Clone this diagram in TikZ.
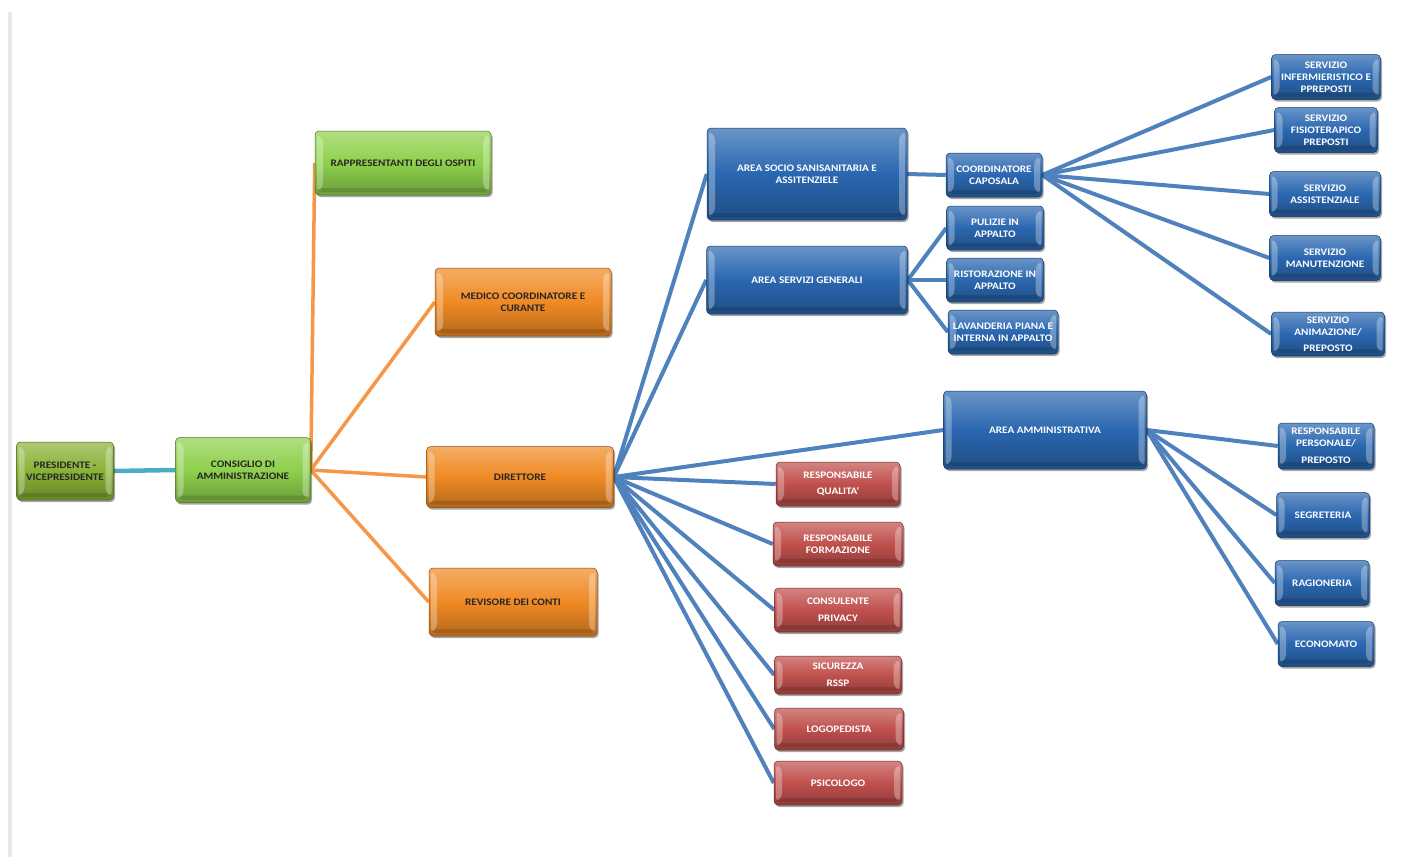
\documentclass[tikz,border=0pt]{standalone}
\usepackage{fontspec}
\newfontfamily\boxfont{Carlito}[FakeStretch=1.12]
\usetikzlibrary{shadows}
\pgfdeclarelayer{bg}
\pgfsetlayers{bg,main}
\definecolor{cgreen}{HTML}{8ED04C}
\definecolor{cpres}{HTML}{88B236}
\definecolor{corange}{HTML}{F08A24}
\definecolor{cblue}{HTML}{2A67B0}
\definecolor{cred}{HTML}{C0504D}
\definecolor{lblue}{HTML}{4F81BD}
\definecolor{lorange}{HTML}{F79646}
\definecolor{lcyan}{HTML}{4BACC6}
\tikzset{
  bevel/.style={rounded corners=4pt, draw=#1!55!black, line width=0.5pt,
    top color=#1!70!white, bottom color=#1!75!black, middle color=#1,
    drop shadow={shadow xshift=1.5pt, shadow yshift=-2pt, opacity=0.35, fill=black},
    align=center, inner sep=1pt,
    font=\boxfont\bfseries\fontsize{10}{12}\selectfont,
    path picture={
      \fill[white,opacity=0.3]
        ([xshift=2pt,yshift=-3pt]path picture bounding box.north west) --
        ([xshift=8pt,yshift=-8pt]path picture bounding box.north west) --
        ([xshift=8pt,yshift=8pt]path picture bounding box.south west) --
        ([xshift=2pt,yshift=3pt]path picture bounding box.south west) -- cycle;
      \fill[white,opacity=0.3]
        ([xshift=-2pt,yshift=-3pt]path picture bounding box.north east) --
        ([xshift=-8pt,yshift=-8pt]path picture bounding box.north east) --
        ([xshift=-8pt,yshift=8pt]path picture bounding box.south east) --
        ([xshift=-2pt,yshift=3pt]path picture bounding box.south east) -- cycle;
      \fill[black,opacity=0.12]
        ([xshift=3pt,yshift=3pt]path picture bounding box.south west) rectangle
        ([xshift=-3pt,yshift=7pt]path picture bounding box.south east);
    }},
  gbox/.style={bevel=cgreen, text=black!85},
  pbox/.style={bevel=cpres, text=black!85},
  obox/.style={bevel=corange, text=black!85},
  bbox/.style={bevel=cblue, text=white},
  rbox/.style={bevel=cred, text=white},
  bline/.style={draw=lblue, line width=4pt},
  oline/.style={draw=lorange, line width=3.5pt},
  cline/.style={draw=lcyan, line width=4.5pt},
}
\begin{document}
\begin{tikzpicture}[x=1pt,y=-1pt]
\useasboundingbox (0,0) rectangle (1401,857);

% left
\node[pbox, minimum width=97pt, minimum height=58pt] (pres) at (65,471) {PRESIDENTE -\\VICEPRESIDENTE};
\node[gbox, minimum width=135pt, minimum height=65pt] (cons) at (243,470) {CONSIGLIO DI\\AMMINISTRAZIONE};
\node[gbox, minimum width=176pt, minimum height=64pt] (rap) at (403,163) {RAPPRESENTANTI DEGLI OSPITI};
\node[obox, minimum width=176pt, minimum height=68pt] (med) at (523,302) {MEDICO COORDINATORE E\\CURANTE};
\node[obox, minimum width=187pt, minimum height=61pt] (dir) at (520,477) {DIRETTORE};
\node[obox, minimum width=168pt, minimum height=68pt] (rev) at (513,602) {REVISORE DEI CONTI};

% blue areas
\node[bbox, minimum width=200pt, minimum height=92pt] (soc) at (807,174) {AREA SOCIO SANISANITARIA E\\ASSITENZIELE};
\node[bbox, minimum width=201pt, minimum height=68pt] (srv) at (807,280) {AREA SERVIZI GENERALI};
\node[bbox, minimum width=203pt, minimum height=78pt] (amm) at (1045,430) {AREA AMMINISTRATIVA};

\node[bbox, minimum width=96pt, minimum height=44pt] (coo) at (994,175) {COORDINATORE\\CAPOSALA};
\node[bbox, minimum width=97pt, minimum height=44pt] (pul) at (995,228) {PULIZIE IN\\APPALTO};
\node[bbox, minimum width=97pt, minimum height=44pt] (ris) at (995,280) {RISTORAZIONE IN\\APPALTO};
\node[bbox, minimum width=110pt, minimum height=44pt] (lav) at (1003,332) {LAVANDERIA PIANA E\\INTERNA IN APPALTO};

\node[bbox, minimum width=109pt, minimum height=45pt] (s1) at (1326,77) {SERVIZIO\\INFERMIERISTICO E\\PPREPOSTI};
\node[bbox, minimum width=103pt, minimum height=45pt] (s2) at (1326,130) {SERVIZIO\\FISIOTERAPICO\\PREPOSTI};
\node[bbox, minimum width=111pt, minimum height=45pt] (s3) at (1325,194) {SERVIZIO\\ASSISTENZIALE};
\node[bbox, minimum width=111pt, minimum height=45pt] (s4) at (1325,258) {SERVIZIO\\MANUTENZIONE};
\node[bbox, minimum width=113pt, minimum height=44pt] (s5) at (1328,334) {SERVIZIO\\ANIMAZIONE/\\[4pt]PREPOSTO};

\node[bbox, minimum width=96pt, minimum height=46pt] (a1) at (1326,446) {RESPONSABILE\\PERSONALE/\\[5pt]PREPOSTO};
\node[bbox, minimum width=93pt, minimum height=45pt] (a2) at (1323,515) {SEGRETERIA};
\node[bbox, minimum width=94pt, minimum height=45pt] (a3) at (1322,583) {RAGIONERIA};
\node[bbox, minimum width=96pt, minimum height=45pt] (a4) at (1326,644) {ECONOMATO};

% red
\node[rbox, minimum width=124pt, minimum height=44pt] (q1) at (838,484) {RESPONSABILE\\[4pt]QUALITA'};
\node[rbox, minimum width=130pt, minimum height=44pt] (q2) at (838,544) {RESPONSABILE\\FORMAZIONE};
\node[rbox, minimum width=127pt, minimum height=44pt] (q3) at (838,610) {CONSULENTE\\[5pt]PRIVACY};
\node[rbox, minimum width=127pt, minimum height=38pt] (q4) at (838,675) {SICUREZZA\\[5pt]RSSP};
\node[rbox, minimum width=129pt, minimum height=42pt] (q5) at (839,729) {LOGOPEDISTA};
\node[rbox, minimum width=128pt, minimum height=44pt] (q6) at (838,783) {PSICOLOGO};

\begin{pgfonlayer}{bg}
\fill[white] (0,0) rectangle (1401,857);
\fill[black!9] (8,12) rectangle (12,857);
\draw[cline] (pres.east) -- (cons.west);
\foreach \t in {rap,med,dir,rev} \draw[oline] (cons.east) -- (\t.west);
\foreach \t in {soc,srv,amm,q1,q2,q3,q4,q5,q6} \draw[bline] (dir.east) -- (\t.west);
\draw[bline] (soc.east) -- (coo.west);
\foreach \t in {pul,ris,lav} \draw[bline] (srv.east) -- (\t.west);
\foreach \t in {s1,s2,s3,s4,s5} \draw[bline] (coo.east) -- (\t.west);
\foreach \t in {a1,a2,a3,a4} \draw[bline] (amm.east) -- (\t.west);
\end{pgfonlayer}
\end{tikzpicture}
\end{document}
